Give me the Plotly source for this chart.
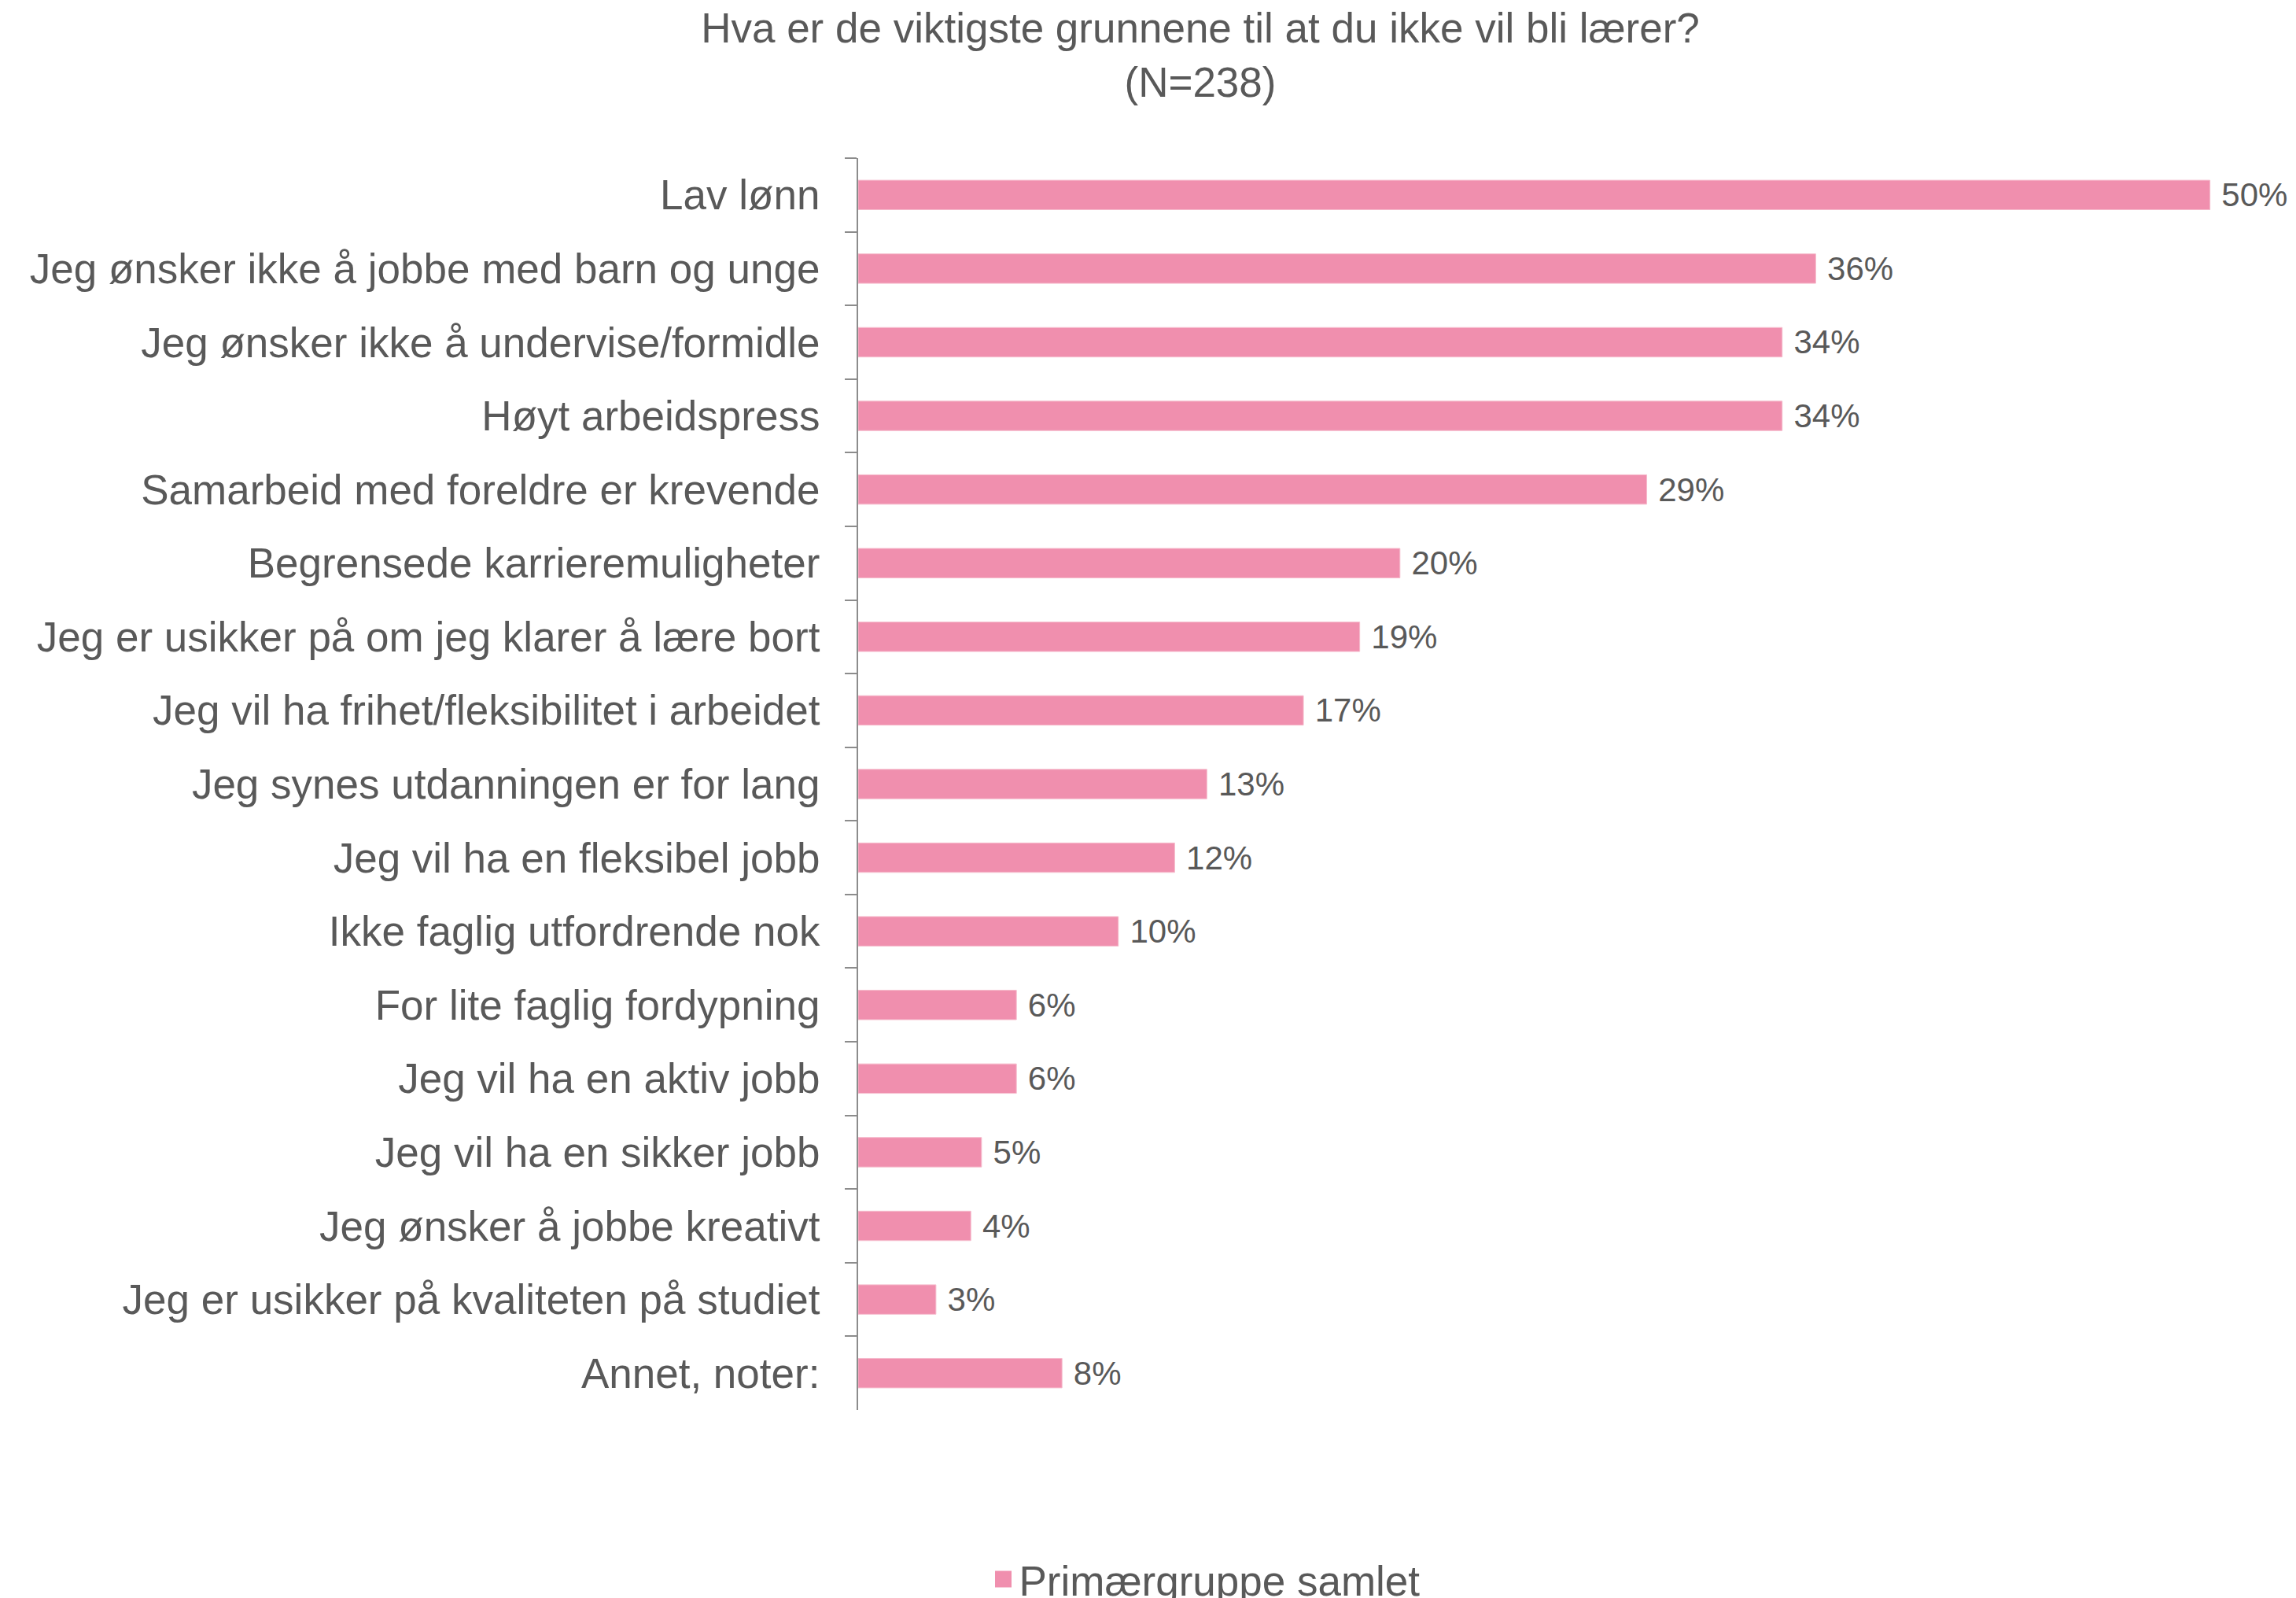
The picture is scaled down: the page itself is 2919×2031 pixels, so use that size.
import plotly.graph_objects as go

categories = [
    "Lav lønn",
    "Jeg ønsker ikke å jobbe med barn og unge",
    "Jeg ønsker ikke å undervise/formidle",
    "Høyt arbeidspress",
    "Samarbeid med foreldre er krevende",
    "Begrensede karrieremuligheter",
    "Jeg er usikker på om jeg klarer å lære bort",
    "Jeg vil ha frihet/fleksibilitet i arbeidet",
    "Jeg synes utdanningen er for lang",
    "Jeg vil ha en fleksibel jobb",
    "Ikke faglig utfordrende nok",
    "For lite faglig fordypning",
    "Jeg vil ha en aktiv jobb",
    "Jeg vil ha en sikker jobb",
    "Jeg ønsker å jobbe kreativt",
    "Jeg er usikker på kvaliteten på studiet",
    "Annet, noter:",
]
values = [50.4, 35.7, 34.45, 34.45, 29.4, 20.2, 18.7, 16.6, 13.0, 11.8, 9.7, 5.9, 5.9, 4.6, 4.2, 2.9, 7.6]
series_name = "Primærgruppe samlet"
title_text = "Hva er de viktigste grunnene til at du ikke vil bli lærer?<br>(N=238)"

W, H = 2919, 2031
FONT = "Liberation Sans, Arial, sans-serif"
TXT = "#595959"
PINK = "#F08FAE"

margin_l, margin_r, margin_t, margin_b = 1083, 10, 193, 247
px_per_pct = 34.1
xmax = (W - margin_l - margin_r) / px_per_pct

fig = go.Figure()
fig.add_trace(go.Bar(
    y=categories,
    x=values,
    orientation="h",
    name=series_name,
    marker=dict(color=PINK, line=dict(color="#F6BCCD", width=1)),
    texttemplate="\u00a0%{x:.0f}%",
    textposition="outside",
    textfont=dict(family=FONT, size=42, color=TXT),
    constraintext="none",
    cliponaxis=False,
    showlegend=False,
))
# legend entry for the series (larger square symbol, like the original)
fig.add_trace(go.Scatter(
    x=[None], y=[None],
    mode="markers",
    name=series_name,
    marker=dict(symbol="square", size=16, color=PINK, line=dict(color=PINK, width=5)),
    showlegend=True,
    hoverinfo="skip",
))

fig.update_layout(
    width=W, height=H,
    paper_bgcolor="white", plot_bgcolor="white",
    margin=dict(l=margin_l, r=margin_r, t=margin_t, b=margin_b, autoexpand=False),
    bargap=0.6,
    font=dict(family=FONT, color=TXT, size=53),
    title=dict(
        text=title_text,
        font=dict(family=FONT, size=53, color=TXT),
        xref="container", x=1518 / W, xanchor="center",
        yref="container", y=1 - 46 / H, yanchor="top",
    ),
    xaxis=dict(range=[0, xmax], visible=False, showgrid=False, zeroline=False),
    yaxis=dict(
        autorange="reversed",
        showline=True, linecolor="#8C8C8C", linewidth=2,
        ticks="outside", ticklen=15, tickcolor="#8C8C8C", tickwidth=2,
        tickson="boundaries",
        showgrid=False, zeroline=False,
        tickfont=dict(family=FONT, size=53, color=TXT),
        ticklabelstandoff=36,
    ),
    legend=dict(
        orientation="h",
        xref="container", yref="container",
        x=1525 / W, xanchor="center",
        y=1 - 1999 / H, yanchor="middle",
        font=dict(family=FONT, size=53, color=TXT),
        bgcolor="rgba(0,0,0,0)",
        itemsizing="trace",
    ),
)

fig.write_html("out.html")
